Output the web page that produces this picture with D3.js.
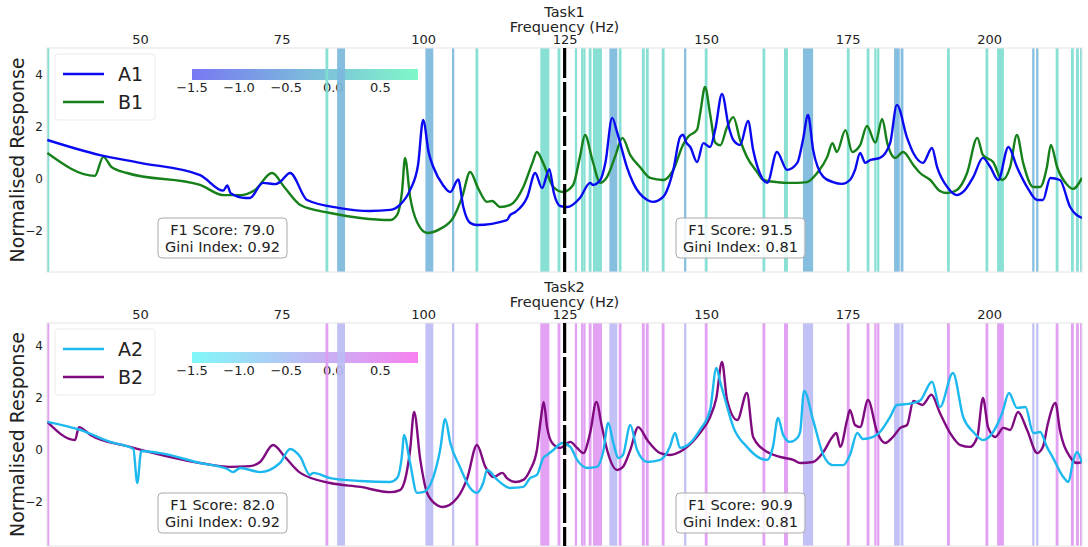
<!DOCTYPE html>
<html>
<head>
<meta charset="utf-8">
<script src="https://cdn.jsdelivr.net/npm/d3@7"></script>
<style>
  body { margin: 0; background: #fff; }
  text { font-family: "DejaVu Sans", sans-serif; fill: #222; }
</style>
</head>
<body>
<div id="chart"></div>
<script>
const freqTicks = [50, 75, 100, 125, 150, 175, 200];
const respTicks = [-2, 0, 2, 4];
const cbarTicks = [-1.5, -1.0, -0.5, 0.0, 0.5];
const markerFreq = 125;

// highlighted frequency bands: centre (Hz), width (Hz), score
const bandFreq  = [33.7, 83.0, 85.5, 101.1, 105.3, 109.5, 121.5, 124.0, 127.0, 128.1, 128.5, 129.5, 130.8, 133.6, 134.8,
                   138.9, 139.6, 142.4, 146.3, 150.0, 160.2, 164.1, 168.0, 175.1, 178.6, 179.9, 180.4, 183.7, 184.6,
                   192.8, 199.6, 202.0, 207.8, 208.5, 212.0, 214.7, 215.6, 216.3];
const bandWidth = [0.5, 0.5, 1.4, 1.4, 0.4, 0.5, 1.6, 0.5, 0.4, 0.4, 0.4, 0.5, 1.6, 1.4, 0.5,
                   0.5, 0.5, 0.5, 0.4, 0.5, 0.5, 0.7, 1.8, 0.5, 0.5, 0.4, 0.4, 1.0, 0.5,
                   0.5, 0.5, 1.2, 0.4, 0.4, 0.5, 0.5, 0.5, 0.5];
const bandScore = [0.4, 0.4, -0.3, -0.3, -0.3, 0.4, 0.4, 0.4, 0.4, 0.4, 0.4, 0.4, 0.4, -0.3, 0.4,
                   0.4, 0.4, 0.4, -0.3, 0.4, 0.4, 0.4, -0.3, 0.4, 0.4, 0.4, 0.4, -0.3, -0.3,
                   0.4, 0.4, 0.4, -0.3, -0.3, 0.4, 0.4, 0.4, 0.4];

const A1 = [[33.6,1.5],[42.9,0.92],[50,0.62],[60.6,0.15],[64.7,-0.45],[65.4,-0.25],[66.0,-0.55],[68.6,-0.73],[69.4,-0.73],
  [71.7,-0.15],[73.9,-0.2],[74.7,-0.12],[76.5,0.23],[79.5,-0.81],[85.3,-1.12],[90.6,-1.23],[94.2,-1.19],[95.9,-1.0],
  [97.7,-0.42],[99.1,0.54],[100.0,2.27],[101.0,1.0],[101.8,0.46],[103.5,-0.23],[104.8,-0.5],[106.2,-0.02],[107.1,-1.08],
  [108.3,-1.69],[109.5,-1.77],[114.8,-1.58],[115.4,-1.38],[116.3,-1.27],[118.4,-0.69],[119.8,0.23],[121.0,-0.35],
  [122.3,0.38],[123.1,-0.54],[124.2,-1.04],[125.4,-1.08],[127.7,-0.73],[129.5,-0.15],[130.0,-0.23],[131.3,-0.04],
  [132.2,0.62],[133.4,2.35],[134.3,1.77],[136.0,0.46],[137.1,-0.15],[139.6,-0.81],[140.6,-0.88],[142.4,-0.69],
  [144.2,0.35],[145.4,1.62],[145.9,1.7],[146.5,1.4],[147.2,1.23],[148.4,0.65],[149.5,1.38],[150.7,1.23],[151.6,1.9],
  [152.8,3.27],[154.0,2.0],[154.8,1.5],[156.0,1.31],[157.4,2.23],[158.3,1.12],[160.1,-0.04],[160.8,-0.15],[162.5,1.04],
  [164.3,0.35],[166.1,0.62],[167.1,1.5],[168.0,2.46],[168.9,1.12],[170.7,0.08],[172.4,-0.12],[174.0,-0.19],[175.4,-0.04],
  [176.3,0.35],[177.2,1.0],[178.1,0.62],[179.0,0.73],[180.7,0.81],[182.5,1.38],[183.7,2.85],[185.5,1.58],[186.6,1.0],
  [188.3,0.62],[189.9,1.19],[190.8,0.46],[192.6,-0.31],[194.3,-0.62],[195.4,-0.5],[197.2,0.08],[198.9,0.81],[200.2,0.46],
  [201.6,-0.04],[203.4,1.23],[204.9,0.46],[206.7,-0.31],[208.5,-0.81],[209.5,-0.81],[210.8,0.04],[212.5,-0.04],
  [214.3,-1.08],[216.4,-1.5]];

const B1 = [[33.6,1.0],[42.0,0.12],[43.5,0.85],[45.0,0.45],[47.7,0.23],[60.6,-0.23],[64.7,-0.62],[67.7,-0.62],[70.3,-0.42],
  [73.3,0.23],[75.6,-0.35],[78.3,-1.0],[83.6,-1.31],[88.9,-1.5],[94.2,-1.58],[95.4,-1.38],[96.3,-0.42],[96.8,0.81],
  [97.7,-0.69],[98.9,-1.65],[100.7,-2.08],[103.0,-1.92],[105.3,-1.5],[106.9,-0.69],[108.3,0.27],[109.7,-0.35],[111.3,-0.88],
  [112.2,-0.85],[113.6,-1.08],[115.4,-1.0],[117.7,-0.31],[119.3,0.62],[120.1,1.04],[121.2,0.62],[123.0,-0.31],[124.7,-0.5],
  [126.5,-0.23],[127.7,0.85],[128.6,1.69],[129.9,0.73],[131.3,-0.15],[132.5,0.08],[133.9,0.85],[135.2,1.58],[136.6,0.92],
  [138.3,0.46],[140.1,0.04],[142.4,-0.04],[144.2,0.35],[145.9,1.31],[146.8,1.62],[148.4,1.9],[149.0,2.6],[149.8,3.54],
  [150.7,2.5],[151.6,1.4],[152.5,1.3],[153.7,2.0],[154.8,2.38],[156.0,1.5],[157.2,0.85],[159.0,0.27],[160.1,-0.04],
  [162.5,-0.12],[164.3,-0.15],[166.1,-0.15],[167.8,-0.12],[169.6,0.23],[171.4,0.85],[172.3,1.38],[173.1,1.04],[174.6,1.88],
  [175.8,1.04],[177.2,1.3],[178.4,2.04],[179.9,1.4],[181.1,2.31],[182.0,1.38],[183.4,0.81],[184.8,1.04],[186.6,0.54],
  [187.8,0.23],[189.6,-0.04],[191.3,-0.46],[192.6,-0.54],[194.3,-0.42],[196.1,0.23],[197.9,1.58],[198.9,0.92],[200.7,0.65],
  [202.3,-0.04],[203.7,0.46],[204.9,1.69],[206.0,0.62],[207.8,-0.31],[209.0,-0.31],[210.2,0.46],[210.9,1.31],[212.0,0.46],
  [213.8,-0.23],[214.8,-0.38],[216.4,0.04]];

const A2 = [[33.6,1.08],[39.4,0.77],[44.7,0.31],[48.8,0.04],[49.5,-1.27],[50.2,-0.04],[53.5,-0.12],[60.6,-0.5],[65.4,-0.73],
  [66.4,-0.85],[67.7,-0.69],[71.2,-0.85],[74.7,-0.5],[76.5,0.04],[78.3,-0.27],[80.0,-0.96],[80.6,-0.88],[83.6,-1.08],
  [88.9,-1.19],[94.2,-1.23],[95.4,-1.08],[96.3,-0.12],[96.6,0.58],[97.7,-0.5],[98.9,-1.65],[100.0,-1.62],[101.8,-1.04],
  [103.0,0.0],[103.9,1.19],[104.8,0.27],[106.5,-0.65],[108.3,-1.46],[109.5,-1.65],[110.6,-1.27],[111.3,-0.77],[113.1,-1.15],
  [115.4,-1.46],[117.7,-1.42],[118.9,-1.08],[120.1,-0.96],[121.2,-0.31],[121.9,-0.19],[123.0,0.0],[124.6,0.27],[126.0,0.12],
  [127.2,-0.38],[129.0,-0.69],[130.7,-0.65],[131.8,-0.08],[132.7,1.04],[133.6,0.27],[134.5,-0.31],[135.3,-0.19],[136.6,0.96],
  [137.8,0.0],[139.6,-0.46],[141.9,-0.38],[143.6,0.12],[144.5,0.65],[145.4,0.08],[147.2,0.27],[148.9,0.77],[150.7,1.54],
  [151.8,3.15],[152.5,2.6],[153.4,1.9],[154.8,0.88],[157.2,0.12],[159.5,-0.31],[160.8,-0.38],[161.8,0.12],[162.7,1.23],
  [163.6,0.58],[164.8,0.31],[166.1,0.46],[166.6,0.69],[167.3,2.27],[168.9,1.15],[170.7,-0.19],[172.4,-0.58],[174.2,-0.58],
  [175.4,-0.19],[176.7,0.65],[177.7,0.42],[179.5,0.5],[180.7,0.69],[182.5,1.27],[183.7,1.73],[185.7,1.77],[187.8,1.9],
  [189.9,2.62],[191.3,1.65],[193.6,2.96],[195.4,1.27],[197.2,0.69],[198.9,0.38],[200.7,0.69],[202.3,1.42],[203.5,2.19],
  [204.9,1.62],[206.4,1.65],[207.8,0.65],[209.0,0.69],[210.2,0.12],[211.3,-0.31],[213.1,-1.04],[214.0,-1.23],[214.8,-0.46],
  [215.5,-0.08],[216.4,-0.5]];

const B2 = [[33.6,1.08],[38.5,0.38],[39.2,0.88],[41.2,0.58],[48.2,0.12],[60.6,-0.5],[65.9,-0.65],[69.4,-0.62],[71.2,-0.46],
  [73.5,0.19],[75.6,-0.27],[78.3,-0.88],[83.6,-1.27],[88.9,-1.42],[94.2,-1.62],[95.9,-1.54],[96.8,-1.15],[97.7,0.0],
  [98.4,1.46],[99.5,-0.38],[100.7,-1.65],[102.5,-2.12],[103.5,-2.19],[106.0,-1.85],[107.8,-1.08],[109.5,0.19],[111.0,-0.65],
  [112.4,-1.04],[114.0,-0.88],[114.8,-1.08],[116.3,-1.23],[117.7,-1.15],[118.9,-0.77],[120.1,0.0],[120.8,1.2],[121.3,1.85],
  [121.9,0.88],[122.8,0.27],[124.2,0.08],[126.0,0.31],[127.2,0.08],[128.3,-0.12],[129.5,0.65],[130.6,1.85],[131.6,0.88],
  [132.5,0.0],[134.3,-0.77],[135.3,-0.65],[136.6,0.0],[138.0,0.88],[139.6,0.38],[141.9,-0.12],[143.6,-0.19],[145.9,0.0],
  [148.9,0.65],[150.7,1.27],[151.8,2.0],[152.8,3.38],[153.7,1.92],[155.5,1.15],[157.2,2.19],[158.3,0.5],[160.8,-0.08],
  [163.1,-0.27],[165.4,-0.38],[166.6,-0.5],[168.9,-0.46],[170.7,-0.08],[172.3,0.5],[173.0,0.65],[173.7,0.12],[174.9,1.15],
  [175.4,1.54],[176.3,0.96],[177.2,0.88],[178.6,1.92],[180.2,0.69],[181.6,0.27],[183.0,0.5],[184.3,0.85],[185.5,0.96],
  [186.6,1.88],[188.2,1.73],[189.8,2.12],[191.3,1.42],[193.1,0.65],[194.9,0.19],[196.6,0.12],[197.9,0.5],[198.9,2.0],
  [199.8,0.88],[201.1,0.5],[202.5,0.85],[203.7,0.77],[205.1,1.46],[206.7,0.77],[208.5,-0.12],[209.5,0.12],[210.4,1.04],
  [211.7,1.81],[212.5,0.77],[214.3,-0.27],[215.5,-0.5],[216.4,-0.46]];

const panels = [
  { title: "Task1", top: 48, bottom: 272, yDomain: [-3.58, 5.04], cbarY: 69,
    series: [{ name: "A1", data: A1, color: "#0a0af0" }, { name: "B1", data: B1, color: "#16801a" }],
    cmap: ["#7878f2", "#80f8c8"], stats: [["79.0", "0.92"], ["91.5", "0.81"]] },
  { title: "Task2", top: 323, bottom: 546, yDomain: [-3.69, 4.88], cbarY: 352,
    series: [{ name: "A2", data: A2, color: "#1cb8ee" }, { name: "B2", data: B2, color: "#800a80" }],
    cmap: ["#80f8f8", "#f880f0"], stats: [["82.0", "0.92"], ["90.9", "0.81"]] }
];

const width = 1088, height = 547;
const left = 47, right = 1082;

const svg = d3.select("#chart").append("svg")
  .attr("width", width).attr("height", height);

const x = d3.scaleLinear().domain([33.55, 216.4]).range([left, right]);
const cbarScale = d3.scaleLinear().domain([-1.5, 0.9]).range([192, 418]);
const fmt = v => (v < 0 ? "\u2212" : "") + d3.format(".1f")(Math.abs(v));

panels.forEach((p, pi) => {
  const y = d3.scaleLinear().domain(p.yDomain).range([p.bottom, p.top]);
  const color = t => d3.interpolateRgb(p.cmap[0], p.cmap[1])((t - cbarScale.domain()[0]) / (cbarScale.domain()[1] - cbarScale.domain()[0]));
  const g = svg.append("g");

  g.append("clipPath").attr("id", "clip" + pi)
    .append("rect").attr("x", left).attr("y", p.top).attr("width", right - left).attr("height", p.bottom - p.top);

  // colorbar (drawn under the bands)
  const gradId = "grad" + pi;
  const grad = svg.append("defs").append("linearGradient").attr("id", gradId);
  grad.append("stop").attr("offset", "0%").attr("stop-color", p.cmap[0]);
  grad.append("stop").attr("offset", "100%").attr("stop-color", p.cmap[1]);
  g.append("rect")
    .attr("x", cbarScale.range()[0]).attr("y", p.cbarY)
    .attr("width", cbarScale.range()[1] - cbarScale.range()[0]).attr("height", 11)
    .attr("fill", `url(#${gradId})`);
  g.selectAll(".cbt").data(cbarTicks).join("text")
    .attr("x", d => cbarScale(d)).attr("y", p.cbarY + 23)
    .attr("text-anchor", "middle").attr("font-size", 13)
    .text(fmt);

  // bands
  const bands = bandFreq.map((f, i) => ({ f, w: bandWidth[i], s: bandScore[i] }));
  g.append("g").attr("clip-path", `url(#clip${pi})`)
    .selectAll("rect").data(bands).join("rect")
    .attr("x", d => x(d.f - d.w / 2))
    .attr("width", d => x(d.f + d.w / 2) - x(d.f - d.w / 2))
    .attr("y", p.top).attr("height", p.bottom - p.top)
    .attr("fill", d => color(d.s))
    .attr("opacity", 0.92);

  // frame
  g.append("rect").attr("x", left).attr("y", p.top)
    .attr("width", right - left).attr("height", p.bottom - p.top)
    .attr("fill", "none").attr("stroke", "#e4e4e4").attr("stroke-width", 1);

  // curves
  const line = d3.line().x(d => x(d[0])).y(d => y(d[1])).curve(d3.curveMonotoneX);
  const lines = g.append("g").attr("clip-path", `url(#clip${pi})`);
  p.series.slice().reverse().forEach(s => {
    lines.append("path").datum(s.data)
      .attr("fill", "none").attr("stroke", s.color)
      .attr("stroke-width", 2.4).attr("stroke-linejoin", "round")
      .attr("d", line);
  });

  // marker line
  g.append("line")
    .attr("x1", x(markerFreq)).attr("x2", x(markerFreq))
    .attr("y1", p.top).attr("y2", p.bottom)
    .attr("stroke", "#000").attr("stroke-width", 3.2)
    .attr("stroke-dasharray", "30,4");

  // top frequency axis
  const ax = g.append("g").attr("transform", `translate(0,${p.top})`)
    .call(d3.axisTop(x).tickValues(freqTicks).tickSize(0).tickPadding(4));
  ax.select(".domain").remove();
  ax.selectAll("text").attr("font-size", 13).attr("font-family", "DejaVu Sans").attr("fill", "#222");

  g.append("text").attr("x", (left + right) / 2).attr("y", p.top - 16)
    .attr("text-anchor", "middle").attr("font-size", 14.5).text("Frequency (Hz)");
  g.append("text").attr("x", (left + right) / 2).attr("y", p.top - 31)
    .attr("text-anchor", "middle").attr("font-size", 14.5).text(p.title);

  // y axis
  const ay = g.append("g").attr("transform", `translate(${left},0)`)
    .call(d3.axisLeft(y).tickValues(respTicks).tickSize(0).tickPadding(4)
      .tickFormat(d => (d < 0 ? "\u2212" : "") + Math.abs(d)));
  ay.select(".domain").remove();
  ay.selectAll("text").attr("font-size", 12).attr("font-family", "DejaVu Sans").attr("fill", "#222");

  g.append("text")
    .attr("transform", `translate(24,${(p.top + p.bottom) / 2}) rotate(-90)`)
    .attr("text-anchor", "middle").attr("font-size", 19).text("Normalised Response");

  // legend
  const lg = g.append("g").attr("transform", `translate(55,${p.top + 6})`);
  lg.append("rect").attr("width", 100).attr("height", 66).attr("rx", 3)
    .attr("fill", "#fff").attr("fill-opacity", 0.8).attr("stroke", "#ebebeb");
  p.series.forEach((s, i) => {
    const yy = 20 + i * 28;
    lg.append("line").attr("x1", 8).attr("x2", 49).attr("y1", yy).attr("y2", yy)
      .attr("stroke", s.color).attr("stroke-width", 2.6);
    lg.append("text").attr("x", 63).attr("y", yy + 7).attr("font-size", 19).text(s.name);
  });

  // stats boxes
  [[158, 287], [676, 805]].forEach(([x0, x1], i) => {
    const sb = g.append("g").attr("transform", `translate(${x0},${p.top + 170})`);
    sb.append("rect").attr("width", x1 - x0).attr("height", 40).attr("rx", 4)
      .attr("fill", "#fff").attr("fill-opacity", 0.85).attr("stroke", "#aaa").attr("stroke-width", 1);
    sb.append("text").attr("x", (x1 - x0) / 2).attr("y", 17).attr("text-anchor", "middle")
      .attr("font-size", 14.5).text(`F1 Score: ${p.stats[i][0]}`);
    sb.append("text").attr("x", (x1 - x0) / 2).attr("y", 34).attr("text-anchor", "middle")
      .attr("font-size", 14.5).text(`Gini Index: ${p.stats[i][1]}`);
  });
});
</script>
</body>
</html>
